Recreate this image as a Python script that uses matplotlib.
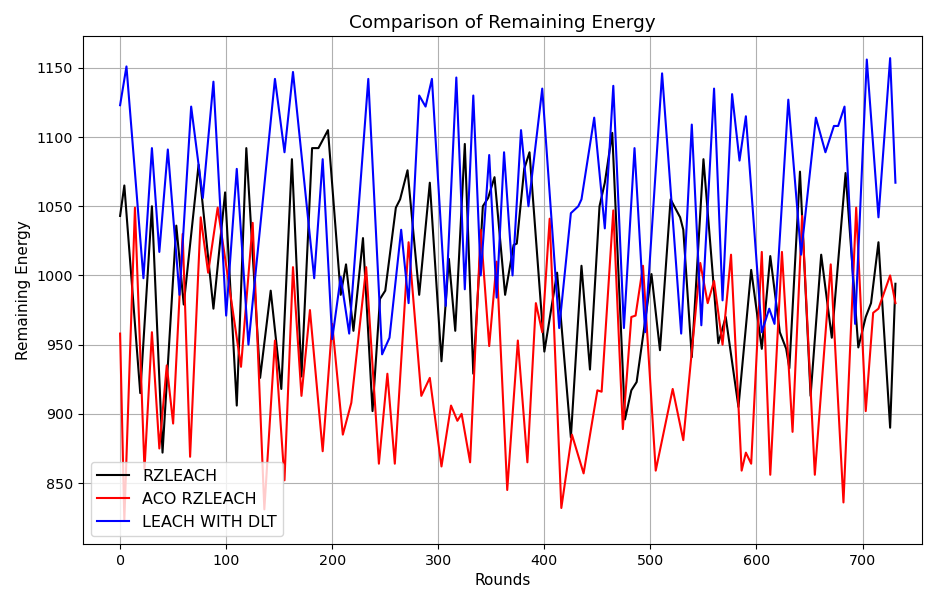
import matplotlib
matplotlib.use("Agg")
import matplotlib.pyplot as plt

# values (turning points of each curve)
rz_rounds = [0, 4, 19, 30, 40, 53, 60, 74, 88, 99, 110, 119, 132, 142, 152, 162, 171, 181, 187,
             196, 208, 213, 220, 229, 238, 245, 250, 260, 264, 271, 282, 292, 303, 310, 316, 325,
             333, 342, 347, 353, 363, 371, 374, 381, 386, 400, 412, 425, 435, 443, 452, 457, 464,
             476, 482, 487, 493, 501, 509, 519, 528, 531, 539, 550, 564, 571, 583, 595, 605, 613,
             622, 628, 631, 641, 651, 661, 671, 684, 696, 703, 708, 715, 726, 731]
rz_energy = [1043, 1065, 915, 1050, 872, 1036, 979, 1080, 976, 1060, 906, 1092, 926, 989, 918, 1084,
             927, 1092, 1092, 1105, 986, 1008, 960, 1027, 902, 983, 989, 1049, 1055, 1076, 986, 1067,
             938, 1012, 960, 1095, 929, 1050, 1056, 1071, 986, 1022, 1023, 1077, 1089, 945, 1002,
             883, 1007, 932, 1050, 1067, 1103, 896, 917, 923, 956, 1001, 946, 1055, 1042, 1033, 941,
             1084, 951, 970, 905, 1004, 947, 1014, 959, 947, 933, 1075, 913, 1015, 955, 1074, 948,
             970, 980, 1024, 890, 994]

aco_rounds = [0, 4, 14, 23, 30, 37, 44, 50, 59, 66, 76, 83, 92, 114, 125, 136, 146, 155, 163, 171,
              179, 191, 200, 210, 218, 232, 244, 252, 259, 272, 284, 292, 303, 312, 318, 322, 330,
              340, 348, 355, 365, 375, 384, 392, 398, 405, 416, 426, 437, 450, 454, 465, 474, 482,
              486, 493, 505, 521, 531, 547, 554, 560, 568, 576, 586, 590, 595, 605, 613, 624, 634,
              643, 655, 670, 682, 694, 703, 710, 715, 726, 731]
aco_energy = [958, 823, 1049, 860, 959, 875, 935, 893, 1030, 869, 1042, 1002, 1049, 934, 1038, 831,
              953, 852, 1006, 913, 975, 873, 965, 885, 908, 1006, 864, 929, 864, 1024, 913, 926, 862,
              906, 895, 900, 865, 1033, 949, 1010, 845, 953, 865, 980, 959, 1041, 832, 885, 857, 917,
              916, 1047, 889, 970, 971, 1007, 859, 918, 881, 1009, 980, 996, 950, 1015, 859, 872, 864,
              1017, 856, 1017, 887, 1043, 856, 1008, 836, 1049, 902, 973, 976, 1000, 980]

dlt_rounds = [0, 6, 22, 30, 37, 45, 56, 67, 78, 88, 100, 110, 121, 146, 155, 163, 183, 191, 200,
              208, 216, 234, 247, 254, 265, 272, 282, 288, 294, 307, 317, 325, 333, 340, 348, 355,
              362, 370, 378, 385, 398, 414, 425, 432, 435, 447, 457, 465, 475, 485, 495, 511, 529,
              539, 548, 560, 568, 577, 584, 590, 605, 612, 617, 630, 642, 656, 665, 673, 677, 683,
              693, 704, 715, 726, 731]
dlt_energy = [1123, 1151, 998, 1092, 1017, 1091, 986, 1122, 1056, 1140, 971, 1077, 950, 1142, 1089,
              1147, 998, 1084, 954, 999, 958, 1142, 943, 955, 1033, 980, 1130, 1122, 1142, 978, 1143,
              990, 1130, 1000, 1087, 984, 1089, 1000, 1105, 1050, 1135, 962, 1045, 1050, 1055, 1114,
              1034, 1137, 962, 1092, 959, 1146, 958, 1109, 964, 1135, 982, 1131, 1083, 1115, 959, 976,
              965, 1127, 1015, 1114, 1089, 1108, 1108, 1122, 965, 1156, 1042, 1157, 1067]

fig = plt.figure(figsize=(9.25, 5.9), dpi=100)
ax = fig.add_axes([0.0897, 0.078, 0.907, 0.861])

ax.plot(rz_rounds, rz_energy, color="black", label="RZLEACH", solid_joinstyle="round")
ax.plot(aco_rounds, aco_energy, color="red", label="ACO RZLEACH", solid_joinstyle="round")
ax.plot(dlt_rounds, dlt_energy, color="blue", label="LEACH WITH DLT", solid_joinstyle="round")

ax.set_xlim(-35, 756)
ax.set_ylim(806, 1173)
ax.tick_params(labelsize=10.3)
ax.set_title("Comparison of Remaining Energy", fontsize=13.2)
ax.set_xlabel("Rounds", fontsize=11)
ax.set_ylabel("Remaining Energy", fontsize=11)
ax.grid(True)
ax.legend(loc="lower left", fontsize=11.5)

fig.savefig("out.png", dpi=100)
